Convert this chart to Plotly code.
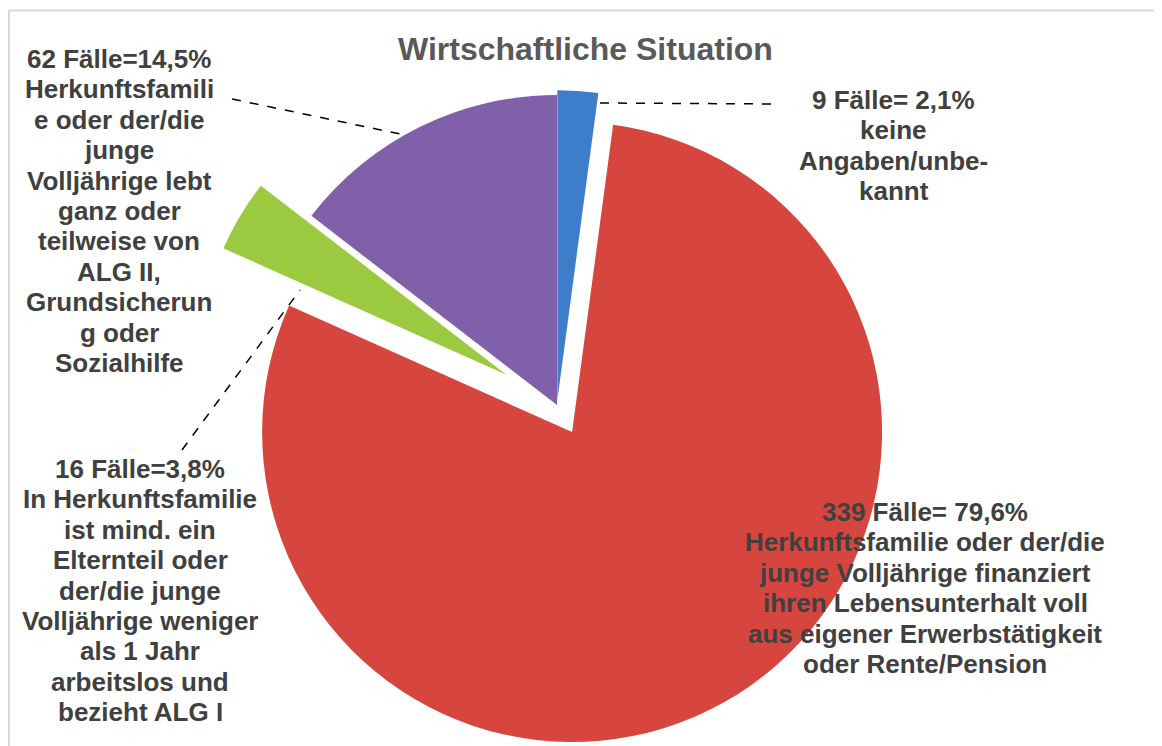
import math
import plotly.graph_objects as go

# ---------------- data ----------------
title_text = "Wirtschaftliche Situation"
categories = [
    "keine Angaben/unbekannt",
    "Erwerbstätigkeit oder Rente/Pension",
    "ALG I",
    "ALG II, Grundsicherung oder Sozialhilfe",
]
cases = [9, 339, 16, 62]
colors = ["#3D7ECB", "#D6463F", "#9BC940", "#8060A8"]
pulls = [0.015, 0.10, 0.19, 0.0]

label_lines = [
    ["9 Fälle= 2,1%", "keine", "Angaben/unbe-", "kannt"],
    ["339 Fälle= 79,6%", "Herkunftsfamilie oder der/die", "junge Volljährige finanziert",
     "ihren Lebensunterhalt voll", "aus eigener Erwerbstätigkeit", "oder Rente/Pension"],
    ["16 Fälle=3,8%", "In Herkunftsfamilie", "ist mind. ein", "Elternteil oder", "der/die junge",
     "Volljährige weniger", "als 1 Jahr", "arbeitslos und", "bezieht ALG I"],
    ["62 Fälle=14,5%", "Herkunftsfamili", "e oder der/die", "junge", "Volljährige lebt", "ganz oder",
     "teilweise von", "ALG II,", "Grundsicherun", "g oder", "Sozialhilfe"],
]

# ---------------- layout geometry (page pixels) ----------------
W, H = 1162, 746
PAGE_OFF = 8          # default body margin of the html page
CX, CY, R = 557, 405, 310
FONT = "Liberation Sans, Arial, sans-serif"
TEXT_COL = "#404040"
LINE_H = 30.4

label_pos = [(894, 100), (925, 512), (140, 469), (119, 59)]


def px(x):
    return (x - PAGE_OFF) / W


def py(y):
    return 1 - (y - PAGE_OFF) / H


def dom(cx, cy, side):
    x0 = max(0.0, px(cx - side / 2))
    x1 = min(1.0, px(cx + side / 2))
    y0 = max(0.0, py(cy + side / 2))
    y1 = min(1.0, py(cy - side / 2))
    return dict(x=[x0, x1], y=[y0, y1])


# the strongly pulled slice is drawn as its own trace, offset along its mid angle
far = pulls.index(max(pulls))
total = sum(cases)
mid_angle = 2 * math.pi * (sum(cases[:far]) + cases[far] / 2) / total
off = pulls[far] * R
fcx = CX + off * math.sin(mid_angle)
fcy = CY - off * math.cos(mid_angle)

main_pulls = [p if i != far else 0 for i, p in enumerate(pulls)]
main_colors = [c if i != far else "rgba(0,0,0,0)" for i, c in enumerate(colors)]
far_colors = [c if i == far else "rgba(0,0,0,0)" for i, c in enumerate(colors)]
main_side = 2 * R * (1 + max(main_pulls))

fig = go.Figure()
fig.add_trace(go.Pie(
    labels=categories, values=cases, sort=False, direction="clockwise", rotation=0,
    pull=main_pulls, marker=dict(colors=main_colors, line=dict(width=0)),
    textinfo="none", showlegend=False, domain=dom(CX, CY, main_side),
))
fig.add_trace(go.Pie(
    labels=categories, values=cases, sort=False, direction="clockwise", rotation=0,
    marker=dict(colors=far_colors, line=dict(width=0)),
    textinfo="none", showlegend=False, domain=dom(fcx, fcy, 2 * R),
))

ann = []
for lines, (lx, ly) in zip(label_lines, label_pos):
    for k, t in enumerate(lines):
        ann.append(dict(
            text=t, x=px(lx), y=py(ly + k * LINE_H), xref="paper", yref="paper",
            xanchor="center", yanchor="middle", showarrow=False,
            font=dict(family=FONT, size=26, color=TEXT_COL, weight="bold"),
        ))
ann.append(dict(
    text=title_text, x=px(585), y=py(49), xref="paper", yref="paper",
    xanchor="center", yanchor="middle", showarrow=False,
    font=dict(family=FONT, size=32, color="#595959", weight="bold"),
))

leaders = [((600, 103), (775, 104)), ((232, 99), (405, 135)), ((182, 450), (300, 290))]
shapes = []
for (x0, y0), (x1, y1) in leaders:
    shapes.append(dict(type="line", xref="paper", yref="paper",
                       x0=px(x0), y0=py(y0), x1=px(x1), y1=py(y1),
                       line=dict(color="black", width=1.5, dash="dash")))
shapes.append(dict(type="rect", xref="paper", yref="paper",
                   x0=px(9), y0=-0.05, x1=px(1160), y1=py(10.5),
                   line=dict(color="#D9D9D9", width=2), layer="below"))

fig.update_layout(
    width=W, height=H, margin=dict(l=0, r=0, t=0, b=0),
    paper_bgcolor="white", plot_bgcolor="white",
    annotations=ann, shapes=shapes, showlegend=False,
)
fig.write_html("out.html")
